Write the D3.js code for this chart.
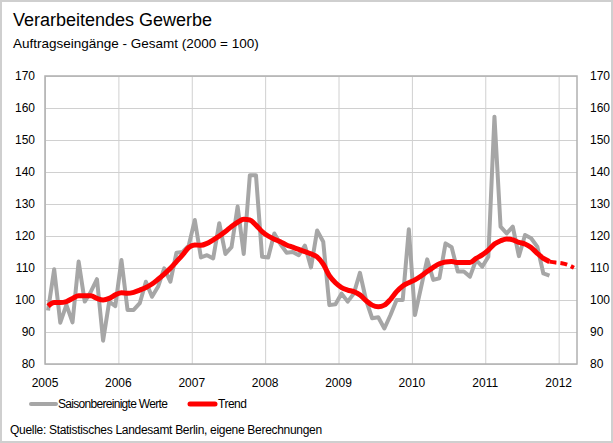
<!DOCTYPE html>
<meta charset="utf-8">
<head>
  <script src="https://d3js.org/d3.v7.min.js"></script>
  <style>
    body { margin: 0; font-family: 'Liberation Sans', Arial, sans-serif; background: #fff; }
    .grid line { stroke: #d0d0d0; stroke-width: 1; }
    .grid path { display: none; }
    .lbl { font-size: 12px; fill: #000; }
  </style>
</head>
<div id="my_dataviz"></div>
<script>
  // monthly values from Jan 2005, index = months since Jan 2005
  var jahre = ["2005", "2006", "2007", "2008", "2009", "2010", "2011", "2012"];
  var yTicks = [80, 90, 100, 110, 120, 130, 140, 150, 160, 170];

  var saison = [96.7, 109.6, 92.9, 98.5, 93, 112, 99.5, 102.6, 106.5, 87.3, 99.5, 98.1,
    112.5, 96.9, 96.9, 99, 105.7, 101, 104.2, 109.9, 105.7, 114.8, 115, 117,
    125, 113.3, 114, 113, 124, 114.4, 116.5, 129.2, 114.4, 139, 139, 113.5,
    113.3, 120.8, 117.5, 114.8, 115, 114, 117, 110.2, 121.7, 118.2, 98.4, 98.7,
    102, 99.5, 102, 108.5, 100, 94.3, 94.6, 91.1, 95.3, 100, 100, 122.1,
    95.3, 104, 112.7, 106.3, 106.8, 117.7, 116.5, 108.9, 108.9, 107.3, 112.5, 110.4,
    113.5, 157.3, 122.9, 120.8, 122.9, 113.7, 120.3, 119.3, 116.7, 108.3, 107.6];

  var trend = [98.1, 99.2, 99.2, 99.5, 100.5, 101.3, 101.3, 101.3, 100.5, 100, 100.5, 101.6,
    102.3, 102.1, 102.4, 103.1, 103.9, 105, 106.5, 108.1, 109.9, 112, 114.1, 116.4,
    117.2, 117.1, 117.7, 118.8, 120, 121.4, 123, 124.3, 125.2, 125, 123.4, 121.4,
    120, 119, 118.2, 117.2, 116.5, 115.8, 115.1, 114.4, 113.5, 111.2, 107.6, 105.4,
    103.9, 103.1, 102.6, 101.6, 99.8, 98.4, 97.9, 98.4, 100.2, 102.6, 104.4, 105.4,
    106.3, 107.5, 108.9, 110.2, 111.3, 111.9, 112, 111.7, 111.7, 111.7, 113, 114.1,
    115.6, 117.5, 118.5, 119.1, 118.8, 118, 117.5, 116.4, 114.6, 113, 112];

  // dashed continuation of the trend (starts at month 82)
  var prognose = [112, 111.7, 111.5, 111, 110.1];
  var prognoseStart = 82;

  var margin = { top: 76, right: 36, bottom: 79, left: 45 },
    width = 613 - margin.left - margin.right,
    height = 443 - margin.top - margin.bottom;

  var root = d3.select("#my_dataviz")
    .append("svg")
    .attr("width", 613)
    .attr("height", 443);

  // outer frame
  root.append("rect")
    .attr("x", 1).attr("y", 1)
    .attr("width", 611).attr("height", 441)
    .attr("fill", "none")
    .attr("stroke", "#cfcfcf")
    .attr("stroke-width", 2);

  root.append("text")
    .attr("x", 13).attr("y", 26)
    .style("font-size", "18px")
    .text("Verarbeitendes Gewerbe");
  root.append("text")
    .attr("x", 13).attr("y", 48)
    .style("font-size", "13.5px")
    .text("Auftragseingänge - Gesamt (2000 = 100)");

  var svg = root.append("g")
    .attr("transform", "translate(" + margin.left + "," + margin.top + ")");

  var x = d3.scaleLinear().domain([0, 87]).range([0, width]);
  var y = d3.scaleLinear().domain([80, 170]).range([height, 0]);

  // horizontal gridlines
  svg.append("g")
    .attr("class", "grid")
    .call(d3.axisLeft(y).tickValues(yTicks).tickSize(-width).tickFormat(""));
  // vertical gridlines at year starts
  svg.append("g")
    .attr("class", "grid")
    .attr("transform", "translate(0," + height + ")")
    .call(d3.axisBottom(x).tickValues(jahre.map(function (d, i) { return i * 12; }))
      .tickSize(-height).tickFormat(""));

  // plot frame
  svg.append("rect")
    .attr("width", width).attr("height", height)
    .attr("fill", "none")
    .attr("stroke", "#b0b0b0")
    .attr("stroke-width", 1.5);

  // y labels left and right
  svg.selectAll(".yl").data(yTicks).enter().append("text")
    .attr("class", "lbl")
    .attr("x", -10).attr("y", function (d) { return y(d); })
    .attr("dy", "0.35em")
    .style("text-anchor", "end")
    .text(function (d) { return d; });
  svg.selectAll(".yr").data(yTicks).enter().append("text")
    .attr("class", "lbl")
    .attr("x", width + 13).attr("y", function (d) { return y(d); })
    .attr("dy", "0.35em")
    .text(function (d) { return d; });

  // x labels
  svg.selectAll(".xl").data(jahre).enter().append("text")
    .attr("class", "lbl")
    .attr("x", function (d, i) { return x(i * 12); })
    .attr("y", height + 19)
    .attr("dy", "0.35em")
    .style("text-anchor", "middle")
    .text(function (d) { return d; });

  var line = d3.line()
    .x(function (d, i) { return x(i + 0.5); })
    .y(function (d) { return y(d); });

  svg.append("path")
    .datum(saison)
    .attr("fill", "none")
    .attr("stroke", "#a6a6a6")
    .attr("stroke-width", 4)
    .attr("stroke-linejoin", "round")
    .attr("d", line);

  svg.append("path")
    .datum(trend)
    .attr("fill", "none")
    .attr("stroke", "#ff0000")
    .attr("stroke-width", 5)
    .attr("stroke-linejoin", "round")
    .attr("d", d3.line().curve(d3.curveMonotoneX)
      .x(function (d, i) { return x(i + 0.5); })
      .y(function (d) { return y(d); }));

  svg.append("path")
    .datum(prognose)
    .attr("fill", "none")
    .attr("stroke", "#ff0000")
    .attr("stroke-width", 4)
    .attr("stroke-dasharray", "7,4")
    .attr("d", d3.line().curve(d3.curveMonotoneX)
      .x(function (d, i) { return x(prognoseStart + i + 0.5); })
      .y(function (d) { return y(d); }));

  // legend
  var leg = root.append("g").attr("transform", "translate(0,404)");
  leg.append("line").attr("x1", 31).attr("x2", 56).attr("y1", 0).attr("y2", 0)
    .attr("stroke", "#a6a6a6").attr("stroke-width", 4).attr("stroke-linecap", "round");
  leg.append("text").attr("class", "lbl").attr("x", 58).attr("y", 0).attr("dy", "0.35em")
    .style("letter-spacing", "-0.7px")
    .text("Saisonbereinigte Werte");
  leg.append("line").attr("x1", 190).attr("x2", 215).attr("y1", 0).attr("y2", 0)
    .attr("stroke", "#ff0000").attr("stroke-width", 5).attr("stroke-linecap", "round");
  leg.append("text").attr("class", "lbl").attr("x", 218).attr("y", 0).attr("dy", "0.35em")
    .style("letter-spacing", "-0.5px")
    .text("Trend");

  root.append("text")
    .attr("class", "lbl")
    .attr("x", 10).attr("y", 430)
    .attr("dy", "0.35em")
    .style("letter-spacing", "-0.3px")
    .text("Quelle: Statistisches Landesamt Berlin, eigene Berechnungen");
</script>
